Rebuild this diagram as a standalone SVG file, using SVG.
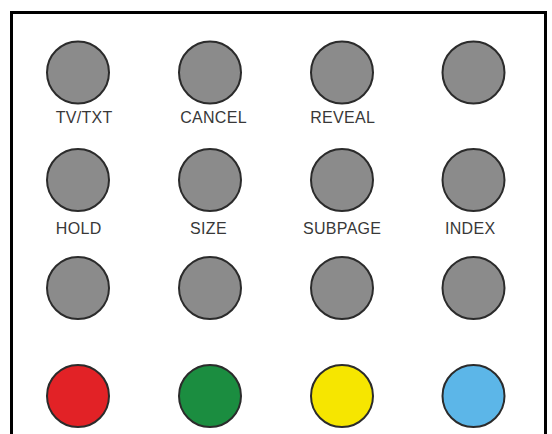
<svg xmlns="http://www.w3.org/2000/svg" width="552" height="434" viewBox="0 0 552 434">
<style>
.btn{stroke:#2b2b2b;stroke-width:2}
.g{fill:#8b8b8b}
.lbl{font-family:"Liberation Sans",Arial,sans-serif;font-size:16px;fill:#383838;text-anchor:middle;letter-spacing:0.3px}
</style>
<rect width="552" height="434" fill="#ffffff"/>
<path d="M11.5,434 V12.5 H545.5 V434" fill="none" stroke="#000" stroke-width="3"/>
<g id="b-tvtxt"><circle class="btn g" cx="78" cy="72.5" r="31"/><text class="lbl" x="84.2" y="122.7">TV/TXT</text></g>
<g id="b-cancel"><circle class="btn g" cx="210" cy="72.5" r="31"/><text class="lbl" x="213.5" y="122.7">CANCEL</text></g>
<g id="b-reveal"><circle class="btn g" cx="342" cy="72.5" r="31"/><text class="lbl" x="342.7" y="122.7">REVEAL</text></g>
<g id="b-r1c4"><circle class="btn g" cx="473.5" cy="72.5" r="31"/></g>
<g id="b-hold"><circle class="btn g" cx="78" cy="180" r="31"/><text class="lbl" x="78.7" y="234">HOLD</text></g>
<g id="b-size"><circle class="btn g" cx="210" cy="180" r="31"/><text class="lbl" x="208.5" y="234">SIZE</text></g>
<g id="b-subpage"><circle class="btn g" cx="342" cy="180" r="31"/><text class="lbl" x="342.2" y="234">SUBPAGE</text></g>
<g id="b-index"><circle class="btn g" cx="473.5" cy="180" r="31"/><text class="lbl" x="470.2" y="234">INDEX</text></g>
<g id="b-r3c1"><circle class="btn g" cx="78" cy="288" r="31"/></g>
<g id="b-r3c2"><circle class="btn g" cx="210" cy="288" r="31"/></g>
<g id="b-r3c3"><circle class="btn g" cx="342" cy="288" r="31"/></g>
<g id="b-r3c4"><circle class="btn g" cx="473.5" cy="288" r="31"/></g>
<g id="b-red"><circle class="btn" cx="78" cy="396" r="31" fill="#e22226"/></g>
<g id="b-green"><circle class="btn" cx="210" cy="396" r="31" fill="#1b8d40"/></g>
<g id="b-yellow"><circle class="btn" cx="342" cy="396" r="31" fill="#f6e600"/></g>
<g id="b-blue"><circle class="btn" cx="473.5" cy="396" r="31" fill="#5cb6e8"/></g>
<g id="connectors"/>
</svg>
